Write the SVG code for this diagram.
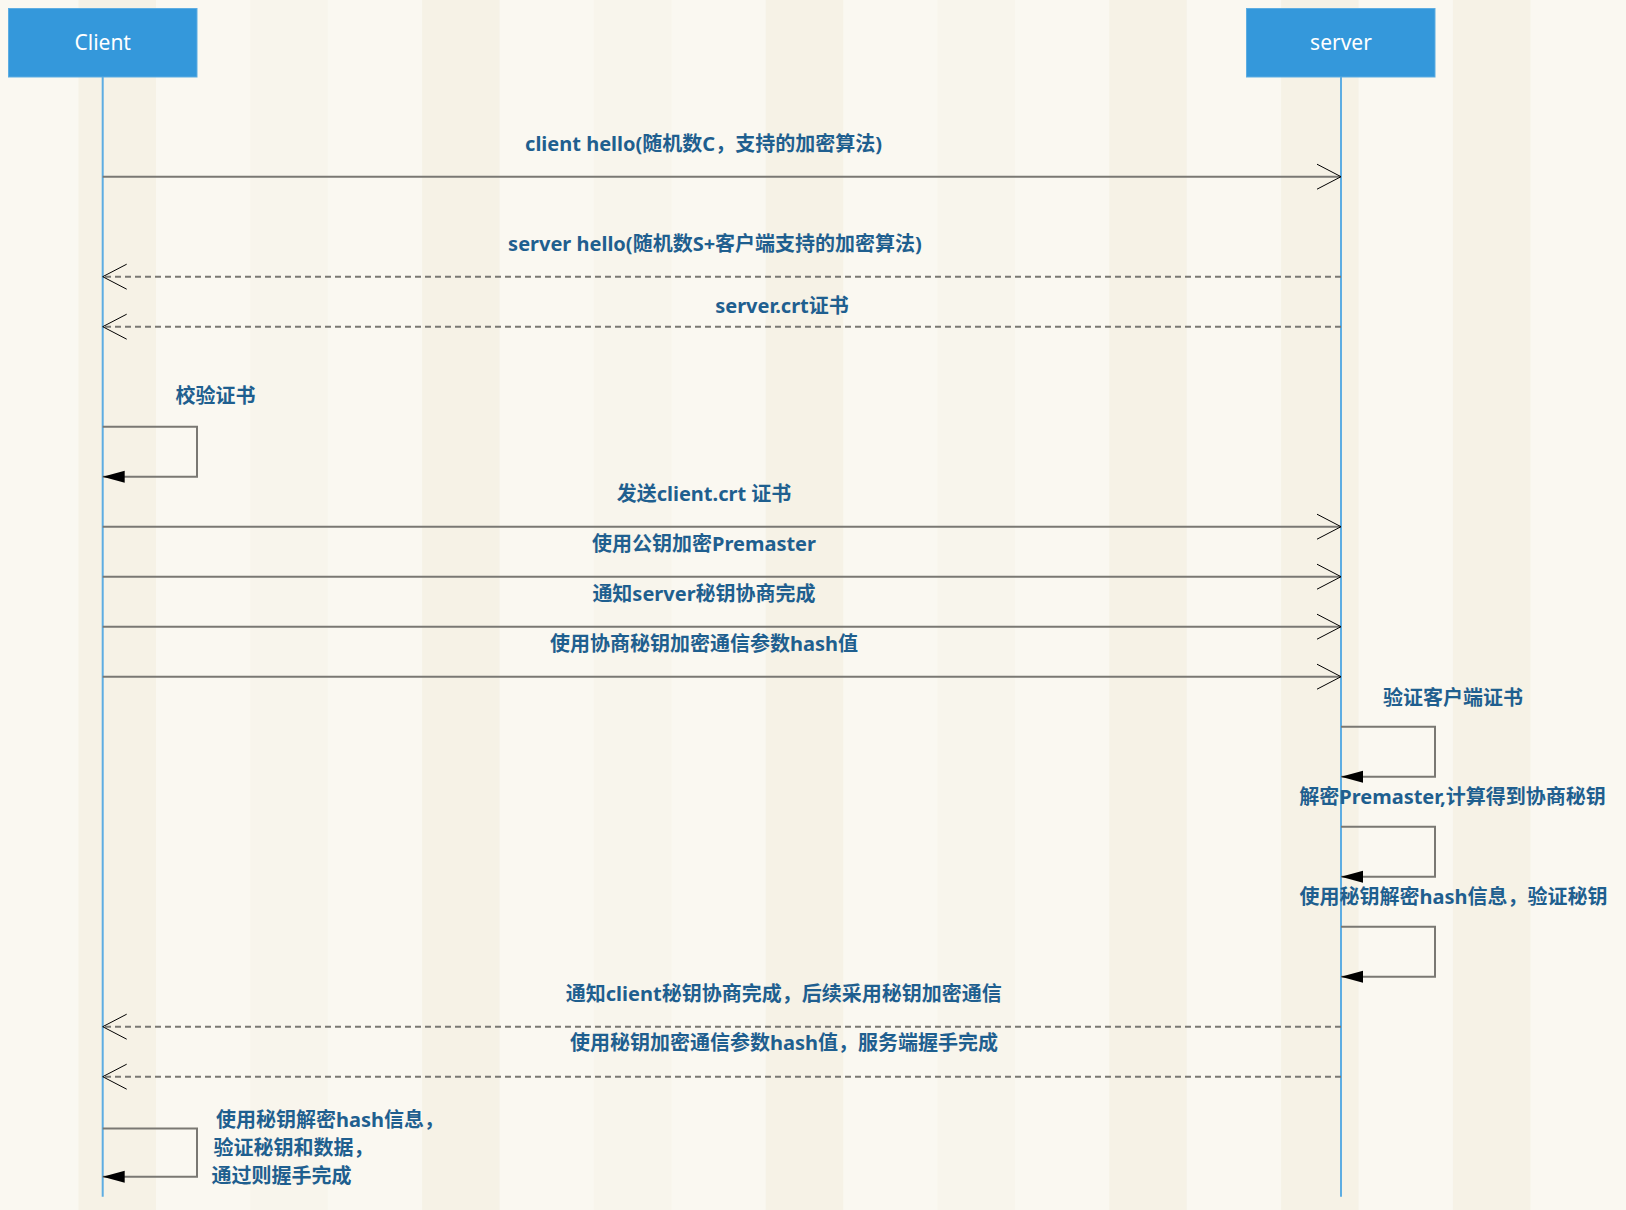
<svg xmlns="http://www.w3.org/2000/svg" width="1626" height="1210" viewBox="0 0 1626 1210">
<style>
.bg{fill:#FAF8F1}
.sa{fill:#F6F2E6}
.sb{fill:#F8F5EC}
.head{fill:#3498DB;stroke:#5DADE2;stroke-width:1}
.htxt{font-family:"Noto Sans","Noto Sans CJK SC",sans-serif;font-size:21px;fill:#FFFFFF;text-anchor:middle}
.life{stroke:#5DADE2;stroke-width:2;fill:none}
.msg{stroke:#7A7873;stroke-width:2;fill:none}
.dash{stroke-dasharray:6 4}
.lbl{font-family:"Noto Sans","Noto Sans CJK SC",sans-serif;font-size:20px;font-weight:700;fill:#1F5F8F;text-anchor:middle}
.lbs{text-anchor:start}
</style>
<defs>
<marker id="open" markerUnits="userSpaceOnUse" markerWidth="26" markerHeight="26" refX="24" refY="13" orient="auto" overflow="visible">
<path d="M0,0.5 L24,13 L0,25.5" fill="none" stroke="#000" stroke-width="1"/>
</marker>
<marker id="solid" markerUnits="userSpaceOnUse" markerWidth="22" markerHeight="12" refX="22" refY="6" orient="auto" overflow="visible">
<path d="M0,0 L22,6 L0,12 Z" fill="#000" stroke="none"/>
</marker>
</defs>
<rect class="bg" x="0" y="0" width="1626" height="1210"/>
<g id="stripes">
<rect class="sa" x="78.5" y="0" width="77.5" height="1210"/>
<rect class="sb" x="250.3" y="0" width="77.5" height="1210"/>
<rect class="sa" x="422.1" y="0" width="77.5" height="1210"/>
<rect class="sb" x="593.9" y="0" width="77.5" height="1210"/>
<rect class="sa" x="765.7" y="0" width="77.5" height="1210"/>
<rect class="sb" x="937.5" y="0" width="77.5" height="1210"/>
<rect class="sa" x="1109.3" y="0" width="77.5" height="1210"/>
<rect class="sa" x="1281.1" y="0" width="77.5" height="1210"/>
<rect class="sa" x="1452.9" y="0" width="77.5" height="1210"/>
</g>
<g id="client">
<line class="life" x1="102.7" y1="77" x2="102.7" y2="1196.7"/>
<rect class="head" x="8.5" y="8.5" width="188.5" height="68.5"/>
<text class="htxt" x="102.7" y="50.3">Client</text>
</g>
<g id="server">
<line class="life" x1="1341" y1="77" x2="1341" y2="1196.7"/>
<rect class="head" x="1246.5" y="8.5" width="188.5" height="68.5"/>
<text class="htxt" x="1341" y="50.3">server</text>
</g>
<g id="connectors">
<g id="m1"><line class="msg" x1="102.7" y1="176.7" x2="1341" y2="176.7" marker-end="url(#open)"/><text class="lbl" x="703.5" y="151">client hello(随机数C，支持的加密算法)</text></g>
<g id="m2"><line class="msg dash" x1="1341" y1="276.7" x2="102.7" y2="276.7" marker-end="url(#open)"/><text class="lbl" x="715" y="250.7">server hello(随机数S+客户端支持的加密算法)</text></g>
<g id="m3"><line class="msg dash" x1="1341" y1="326.7" x2="102.7" y2="326.7" marker-end="url(#open)"/><text class="lbl" x="782" y="312.7">server.crt证书</text></g>
<g id="m4"><polyline class="msg" points="102.7,426.7 197,426.7 197,476.7 102.7,476.7" marker-end="url(#solid)"/><text class="lbl" x="215.5" y="403.3">校验证书</text></g>
<g id="m5"><line class="msg" x1="102.7" y1="526.7" x2="1341" y2="526.7" marker-end="url(#open)"/><text class="lbl" x="704" y="500.7">发送client.crt 证书</text></g>
<g id="m6"><line class="msg" x1="102.7" y1="576.7" x2="1341" y2="576.7" marker-end="url(#open)"/><text class="lbl" x="704" y="550.7">使用公钥加密Premaster</text></g>
<g id="m7"><line class="msg" x1="102.7" y1="626.7" x2="1341" y2="626.7" marker-end="url(#open)"/><text class="lbl" x="704" y="600.7">通知server秘钥协商完成</text></g>
<g id="m8"><line class="msg" x1="102.7" y1="676.7" x2="1341" y2="676.7" marker-end="url(#open)"/><text class="lbl" x="704" y="650.5">使用协商秘钥加密通信参数hash值</text></g>
<g id="m9"><polyline class="msg" points="1341,726.7 1435,726.7 1435,776.7 1341,776.7" marker-end="url(#solid)"/><text class="lbl" x="1453" y="704.5">验证客户端证书</text></g>
<g id="m10"><polyline class="msg" points="1341,826.7 1435,826.7 1435,876.7 1341,876.7" marker-end="url(#solid)"/><text class="lbl" x="1452.5" y="804">解密Premaster,计算得到协商秘钥</text></g>
<g id="m11"><polyline class="msg" points="1341,926.7 1435,926.7 1435,976.7 1341,976.7" marker-end="url(#solid)"/><text class="lbl" x="1453.5" y="904">使用秘钥解密hash信息，验证秘钥</text></g>
<g id="m12"><line class="msg dash" x1="1341" y1="1026.7" x2="102.7" y2="1026.7" marker-end="url(#open)"/><text class="lbl" x="783.7" y="1000.5">通知client秘钥协商完成，后续采用秘钥加密通信</text></g>
<g id="m13"><line class="msg dash" x1="1341" y1="1076.7" x2="102.7" y2="1076.7" marker-end="url(#open)"/><text class="lbl" x="784" y="1050.3">使用秘钥加密通信参数hash值，服务端握手完成</text></g>
<g id="m14"><polyline class="msg" points="102.7,1128.5 197,1128.5 197,1176.7 102.7,1176.7" marker-end="url(#solid)"/>
<text class="lbl lbs" x="216" y="1127">使用秘钥解密hash信息，</text>
<text class="lbl lbs" x="213.5" y="1155">验证秘钥和数据，</text>
<text class="lbl lbs" x="211.5" y="1183">通过则握手完成</text></g>
</g>
</svg>
